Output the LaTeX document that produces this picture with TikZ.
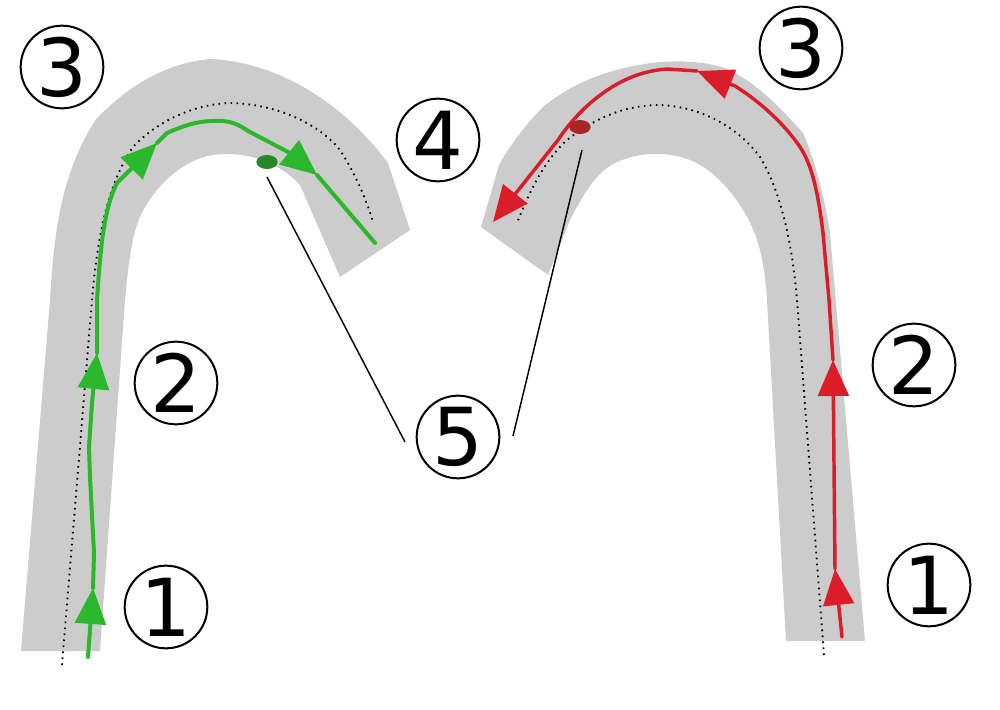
\documentclass[tikz,border=0pt]{standalone}
\usepackage{fontspec}
\newfontfamily\numfont{DejaVu Sans}
\usetikzlibrary{arrows.meta,shapes.geometric}

\definecolor{bandgrey}{RGB}{204,204,204}
\definecolor{pathgreen}{RGB}{44,184,44}
\definecolor{pathred}{RGB}{219,29,42}
\definecolor{dotgreen}{RGB}{40,135,40}
\definecolor{dotred}{RGB}{168,38,38}

\begin{document}
\begin{tikzpicture}[x=0.75pt,y=0.75pt,yscale=-1,xscale=1,
	numcircle/.style={circle,draw,line width=1.5pt,minimum size=62pt,inner sep=0pt,font=\numfont\fontsize{60}{60}\selectfont},
	bigtip/.style={-{Triangle[length=27pt,width=23pt]}},
	greenroute/.style={draw=pathgreen,line width=3pt,line cap=round,line join=round},
	redroute/.style={draw=pathred,line width=2.6pt,line cap=round,line join=round},
	centreline/.style={line width=1.4pt,dash pattern={on 1.2pt off 3.3pt}},
	pointer/.style={line width=1.1pt},
	spot/.style={ellipse,inner sep=0pt,minimum width=16pt,minimum height=10.5pt}]
	\useasboundingbox (0,0) rectangle (1000,710);
	
	%Shape: Polygon Curved [left arch]
	\fill [bandgrey] (21,651) -- (50,300) .. controls (54,230) and (62,170) .. (97,118) .. controls (125,90) and (160,64) .. (210,59) .. controls (280,62) and (345,105) .. (388,163) -- (410,230) -- (340,277) -- (300,185) .. controls (282,165) and (250,150) .. (213,155) .. controls (180,160) and (152,190) .. (140,217) .. controls (130,240) and (127,280) .. (125,300) -- (100,651) -- cycle ;
	%Shape: Polygon Curved [right arch]
	\fill [bandgrey] (481,227) -- (499,165) .. controls (512,142) and (528,122) .. (543,107) .. controls (570,85) and (605,68) .. (660,62) .. controls (690,60) and (712,63) .. (730,70) .. controls (755,84) and (772,98) .. (803,133) .. controls (815,160) and (825,200) .. (830,233) -- (865,641) -- (786,641) -- (767,300) .. controls (765,268) and (760,240) .. (747,217) .. controls (735,195) and (715,170) .. (690,160) .. controls (672,153) and (645,150) .. (617,162) .. controls (600,170) and (588,185) .. (570,220) -- (548,275) -- cycle ;
	
	%Curve Lines [centre lines]
	\draw [centreline] (62,665) -- (92,300) .. controls (97,240) and (107,185) .. (133,147) .. controls (160,118) and (200,103) .. (233,103) .. controls (280,105) and (320,125) .. (340,150) .. controls (358,178) and (368,205) .. (373,222) ;
	\draw [centreline] (824,655) -- (797,300) .. controls (792,240) and (780,190) .. (760,157) .. controls (740,130) and (705,107) .. (660,105) .. controls (620,105) and (590,122) .. (567,140) .. controls (545,160) and (530,190) .. (517,223) ;
	
	%Curve Lines [green route]
	\draw [greenroute,bigtip] (88,657) -- (93,588) ;
	\draw [greenroute,bigtip] (93,588) -- (94,553) -- (90,477) -- (89,447) -- (92,403) -- (97,353) ;
	\draw [greenroute,bigtip] (97,353) -- (97,300) .. controls (100,255) and (103,210) .. (117,183) -- (157,143) ;
	\draw [greenroute,bigtip] (157,143) -- (167,133) .. controls (185,125) and (200,120) .. (222,121) .. controls (235,122) and (240,126) .. (250,132) -- (290,153) -- (317,175) ;
	\draw [greenroute] (317,175) -- (375,243) ;
	
	%Curve Lines [red route]
	\draw [redroute,bigtip] (842,637) -- (835,569) ;
	\draw [redroute,bigtip] (835,569) -- (833,360) ;
	\draw [redroute,bigtip] (833,360) -- (829,300) -- (823,233) .. controls (818,192) and (812,165) .. (800,147) .. controls (785,125) and (762,103) .. (735,86) -- (697,71) ;
	\draw [redroute,bigtip] (697,71) -- (667,69) .. controls (640,71) and (620,81) .. (603,93) .. controls (585,106) and (570,122) .. (558,140) -- (493,222) ;
	
	%Shape: Ellipse [spots]
	\node [spot,fill=dotgreen] (spotl) at (267,162) {} ;
	\node [spot,fill=dotred] (spotr) at (580,127) {} ;
	
	% Text Node
	\node [numcircle] (n3l) at (62,67) {3} ;
	% Text Node
	\node [numcircle] (n4) at (438,140) {4} ;
	% Text Node
	\node [numcircle] (n2l) at (176,383) {2} ;
	% Text Node
	\node [numcircle] (n1l) at (166,607) {1} ;
	% Text Node
	\node [numcircle] (n5) at (458,437) {5} ;
	% Text Node
	\node [numcircle] (n3r) at (801,48) {3} ;
	% Text Node
	\node [numcircle] (n2r) at (914,365) {2} ;
	% Text Node
	\node [numcircle] (n1r) at (929,585) {1} ;
	
	%Straight Lines [pointers]
	\coordinate (tipl) at (267,177) ;
	\coordinate (footl) at (405,442) ;
	\coordinate (tipr) at (582,150) ;
	\coordinate (footr) at (513,436) ;
	\draw [pointer] (tipl) -- (footl) ;
	\draw [pointer] (tipr) -- (footr) ;
	
\end{tikzpicture}
\end{document}
